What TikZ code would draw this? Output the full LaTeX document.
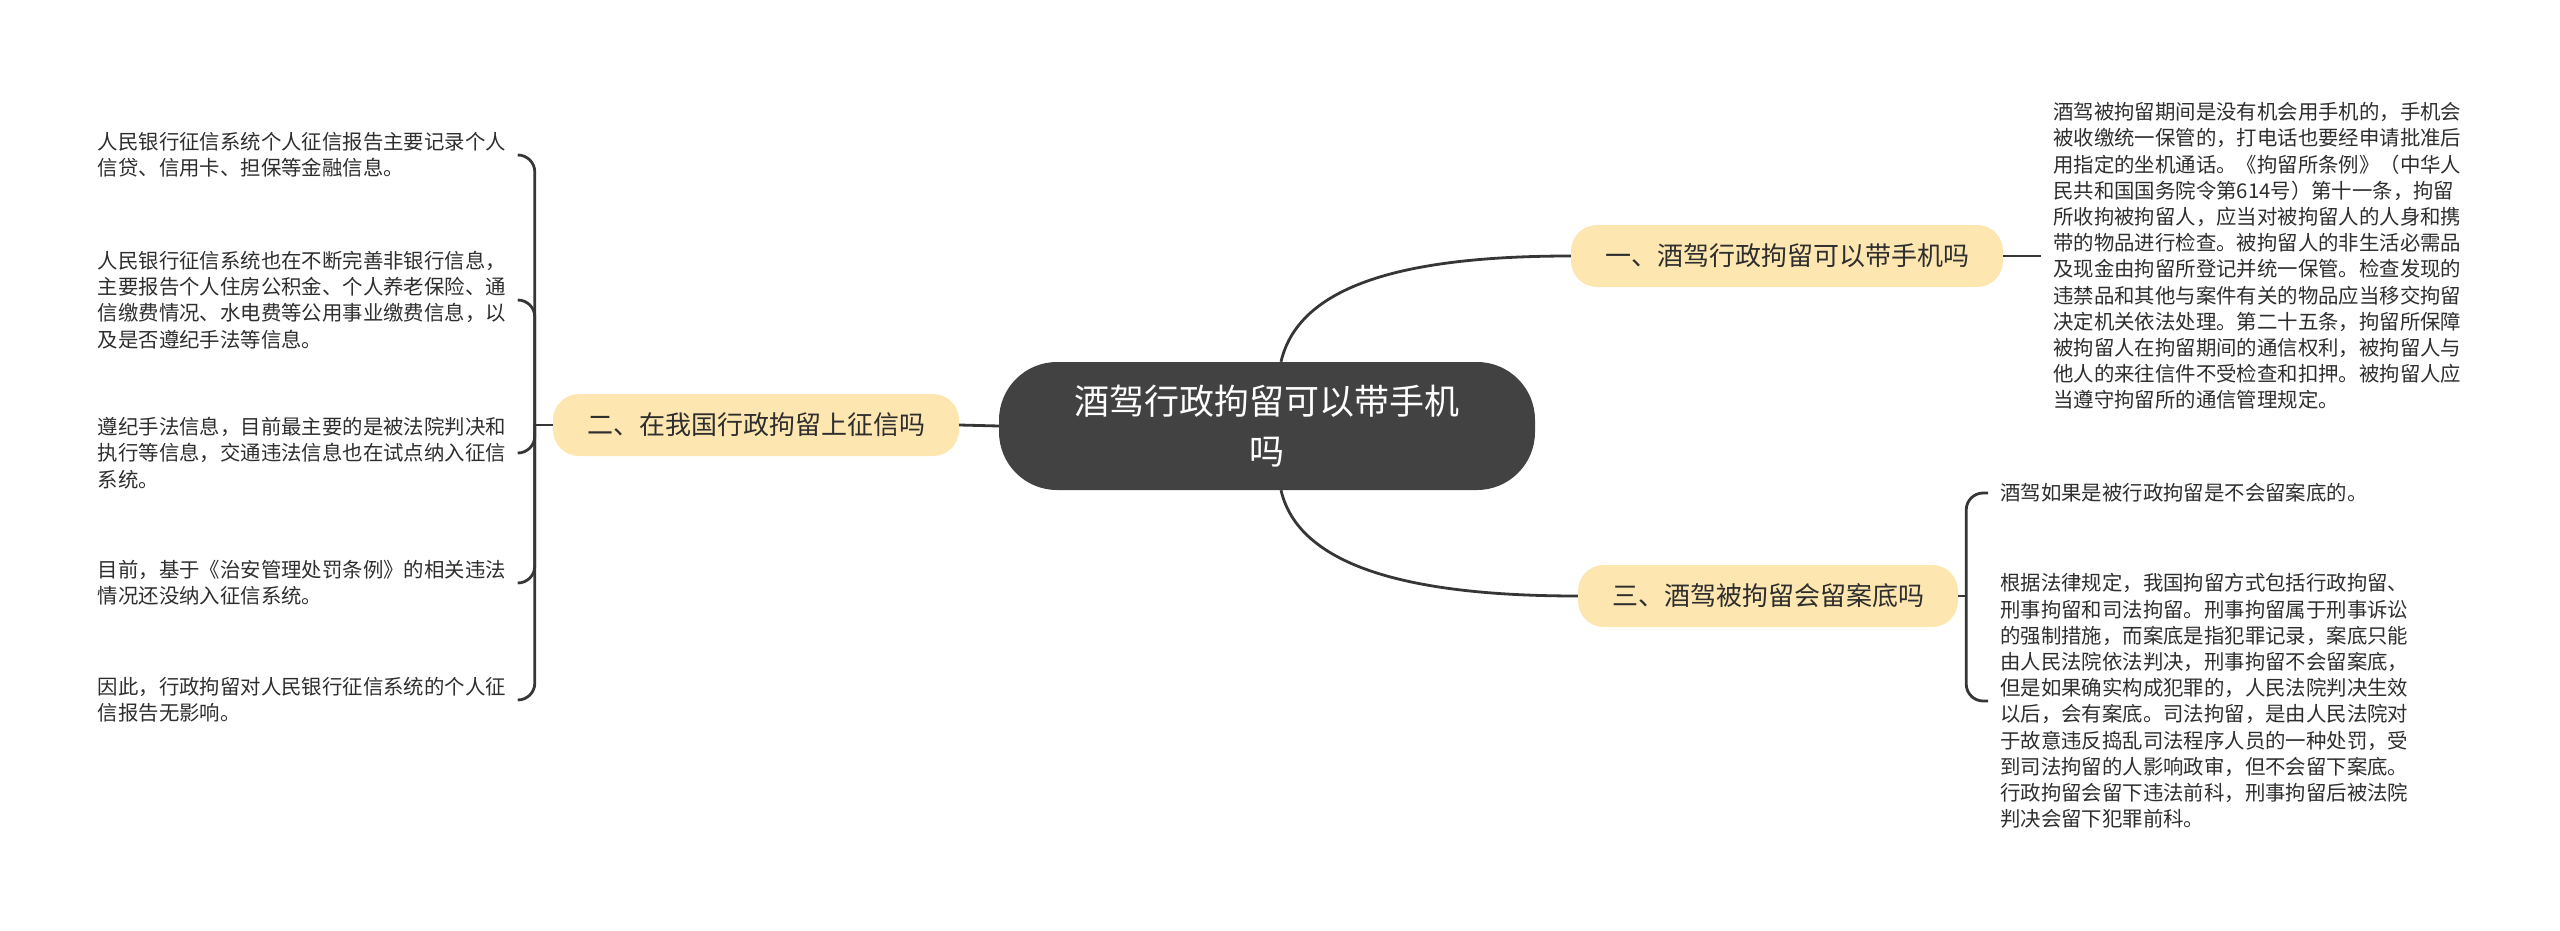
\documentclass[tikz,border=0pt]{standalone}
\usepackage{fontspec}
\setmainfont{Noto Sans CJK SC}
\definecolor{rootgray}{HTML}{424242}
\definecolor{branchfill}{HTML}{FDE6B0}
\definecolor{linkgray}{HTML}{363636}
\definecolor{textgray}{HTML}{2E2E2E}
\tikzset{
  root/.style={fill=rootgray, rounded corners=58pt, text=white, minimum width=536pt, minimum height=128pt, align=center, font=\fontsize{35}{50}\selectfont},
  branch/.style={fill=branchfill, rounded corners=26pt, text=textgray, minimum height=62pt, inner xsep=34pt, font=\fontsize{26}{30}\selectfont},
  leaf/.style={text=textgray, align=left, inner xsep=10pt, inner ysep=0pt, font=\fontsize{20.4}{26.2}\selectfont},
  leftleaf/.style={leaf, anchor=east, text width=410pt},
  rightleaf/.style={leaf, anchor=west, inner xsep=12pt},
  link/.style={draw=linkgray, line width=2.8pt},
}
\begin{document}
\begin{tikzpicture}[x=1pt,y=-1pt]
\useasboundingbox (0,0) rectangle (2560,931);

\node[root] (c) at (1267,426) {酒驾行政拘留可以带手机\\吗};
\node[branch] (b1) at (1787,256) {一、酒驾行政拘留可以带手机吗};
\node[branch] (b2) at (756,425) {二、在我国行政拘留上征信吗};
\node[branch] (b3) at (1768,596) {三、酒驾被拘留会留案底吗};

\node[rightleaf] (r1) at (2041,256) {酒驾被拘留期间是没有机会用手机的，手机会\\被收缴统一保管的，打电话也要经申请批准后\\用指定的坐机通话。《拘留所条例》（中华人\\民共和国国务院令第614号）第十一条，拘留\\所收拘被拘留人，应当对被拘留人的人身和携\\带的物品进行检查。被拘留人的非生活必需品\\及现金由拘留所登记并统一保管。检查发现的\\违禁品和其他与案件有关的物品应当移交拘留\\决定机关依法处理。第二十五条，拘留所保障\\被拘留人在拘留期间的通信权利，被拘留人与\\他人的来往信件不受检查和扣押。被拘留人应\\当遵守拘留所的通信管理规定。};

\node[rightleaf] (r2) at (1988,493) {酒驾如果是被行政拘留是不会留案底的。};
\node[rightleaf] (r3) at (1988,701) {根据法律规定，我国拘留方式包括行政拘留、\\刑事拘留和司法拘留。刑事拘留属于刑事诉讼\\的强制措施，而案底是指犯罪记录，案底只能\\由人民法院依法判决，刑事拘留不会留案底，\\但是如果确实构成犯罪的，人民法院判决生效\\以后，会有案底。司法拘留，是由人民法院对\\于故意违反捣乱司法程序人员的一种处罚，受\\到司法拘留的人影响政审，但不会留下案底。\\行政拘留会留下违法前科，刑事拘留后被法院\\判决会留下犯罪前科。};

\node[leftleaf] (l1) at (518,155) {人民银行征信系统个人征信报告主要记录个人\\信贷、信用卡、担保等金融信息。};
\node[leftleaf] (l2) at (518,300) {人民银行征信系统也在不断完善非银行信息，\\主要报告个人住房公积金、个人养老保险、通\\信缴费情况、水电费等公用事业缴费信息，以\\及是否遵纪手法等信息。};
\node[leftleaf] (l3) at (518,453) {遵纪手法信息，目前最主要的是被法院判决和\\执行等信息，交通违法信息也在试点纳入征信\\系统。};
\node[leftleaf] (l4) at (518,583) {目前，基于《治安管理处罚条例》的相关违法\\情况还没纳入征信系统。};
\node[leftleaf] (l5) at (518,700) {因此，行政拘留对人民银行征信系统的个人征\\信报告无影响。};

\draw[link] ([xshift=14pt]c.north) .. controls +(19,-82) and +(-152,0) .. (b1.west);
\draw[link] ([xshift=14pt]c.south) .. controls +(19,82) and +(-152,0) .. (b3.west);
\draw[link] (c.west) -- (b2.east);
\draw[link] (b1.east) -- (r1.west);

\draw[link] (b2.west) -- ++(-18,0) coordinate (j2);
\foreach \n in {l1,l2,l3,l4,l5}
  \draw[link, rounded corners=17pt] (j2) |- (\n.east);

\draw[link] (b3.east) -- ++(8,0) coordinate (j3);
\foreach \n in {r2,r3}
  \draw[link, rounded corners=17pt] (j3) |- (\n.west);
\end{tikzpicture}
\end{document}
